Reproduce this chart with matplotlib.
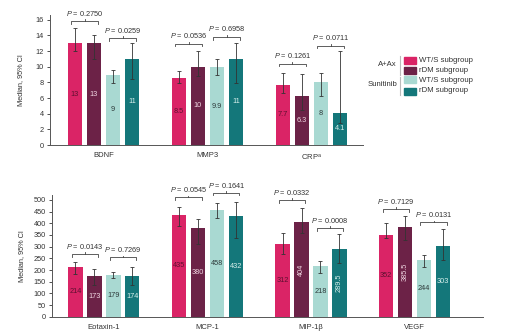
import numpy as np
import matplotlib.pyplot as plt
from matplotlib.patches import Rectangle
from matplotlib.lines import Line2D

plt.rcParams['font.family'] = ['Liberation Sans', 'DejaVu Sans']
plt.rcParams['mathtext.fontset'] = 'custom'
plt.rcParams['mathtext.rm'] = 'Liberation Sans'
plt.rcParams['mathtext.it'] = 'Liberation Sans:italic'

# ---- data ----
series_names = ['WT/S subgroup', 'rDM subgroup', 'WT/S subgroup', 'rDM subgroup']
bar_colors = ['#DA2466', '#6C2247', '#A9D9D2', '#14777A']
label_colors = ['#5E1030', '#F0D6E2', '#2E3B3B', '#D8F0EC']

top_categories = ['BDNF', 'MMP3', 'CRP$^{\\mathrm{a}}$']
top_median = [[13, 13, 9, 11], [8.5, 10, 9.9, 11], [7.7, 6.3, 8, 4.1]]
top_labels = [['13', '13', '9', '11'], ['8.5', '10', '9.9', '11'], ['7.7', '6.3', '8', '4.1']]
top_ci_low = [[12, 11, 7.9, 8.4], [7.9, 8.8, 8.9, 7.9], [6.7, 4.5, 6.3, 2.8]]
top_ci_high = [[15, 14, 9.6, 13], [9.5, 12, 11, 13], [9.25, 9.1, 9.25, 12]]
top_p = [['0.2750', '0.0259'], ['0.0536', '0.6958'], ['0.1261', '0.0711']]
top_p_y = [[15.8, 13.6], [12.95, 13.8], [10.4, 12.7]]

bot_categories = ['Eotaxin-1', 'MCP-1', 'MIP-1\u03b2', 'VEGF']
bot_median = [[214, 173, 179, 174], [435, 380, 458, 432], [312, 404, 218, 289.5], [352, 385.5, 244, 303]]
bot_labels = [['214', '173', '179', '174'], ['435', '380', '458', '432'],
              ['312', '404', '218', '289.5'], ['352', '385.5', '244', '303']]
bot_ci_low = [[183, 136, 164, 136], [390, 311, 421, 339], [269, 360, 189, 229], [336, 329, 214, 243]]
bot_ci_high = [[233, 203, 190, 211], [471, 417, 486, 490], [357, 464, 240, 354], [400, 431, 264, 376]]
bot_p = [['0.0143', '0.7269'], ['0.0545', '0.1641'], ['0.0332', '0.0008'], ['0.7129', '0.0131']]
bot_p_y = [[269, 254], [511, 531], [500, 379], [461, 404]]
bot_rotated = [[], [], [1, 3], [1]]

W, H = 518, 333
fig = plt.figure(figsize=(W / 100, H / 100), dpi=100)

step = 0.183
width = 0.14
offsets = (np.arange(4) - 1.5) * step
fs = 5.3


def panel(ax, cats, med, labels, lo, hi, pvals, py, ymax, yticks, rotated=None):
    med = np.array(med, dtype=float)
    lo = np.array(lo, dtype=float)
    hi = np.array(hi, dtype=float)
    x = np.arange(len(cats))
    for k in range(4):
        xs = x + offsets[k]
        ax.bar(xs, med[:, k], width=width, color=bar_colors[k], zorder=2)
        ax.errorbar(xs, med[:, k], yerr=[med[:, k] - lo[:, k], hi[:, k] - med[:, k]],
                    fmt='none', ecolor='#333333', elinewidth=0.6, capsize=1.6,
                    capthick=0.6, zorder=3)
        for i in range(len(cats)):
            rot = 90 if (rotated and k in rotated[i]) else 0
            ax.text(xs[i], med[i, k] / 2, labels[i][k], ha='center', va='center',
                    fontsize=fs, color=label_colors[k], rotation=rot, zorder=4)
    tick = 0.022 * ymax
    for i in range(len(cats)):
        for j, (a, b) in enumerate([(0, 1), (2, 3)]):
            x1 = x[i] + offsets[a] - 0.035
            x2 = x[i] + offsets[b] + 0.035
            y = py[i][j]
            xm = (x1 + x2) / 2
            ax.plot([x1, x1, x2, x2], [y - tick, y, y, y - tick], color='#444444',
                    lw=0.6, clip_on=False, zorder=5)
            ax.plot([xm, xm], [y, y + tick * 0.7], color='#444444', lw=0.6,
                    clip_on=False, zorder=5)
            ax.text(xm, y + 0.062 * ymax, '$P$ = ' + pvals[i][j], ha='center',
                    va='center', fontsize=fs, color='#333333', clip_on=False)
    ax.set_ylim(0, ymax)
    ax.set_yticks(yticks)
    ax.set_xticks(x)
    ax.set_xticklabels(cats)
    ax.tick_params(axis='x', length=0, pad=5, labelsize=fs + 0.2, colors='#333333')
    ax.tick_params(axis='y', length=2.5, width=0.6, pad=2, labelsize=fs, colors='#333333')
    for s in ['top', 'right']:
        ax.spines[s].set_visible(False)
    for s in ['left', 'bottom']:
        ax.spines[s].set_color('#555555')
        ax.spines[s].set_linewidth(0.7)
    ax.set_ylabel('Median, 95% CI', fontsize=fs, color='#333333')


# top panel
ax1 = fig.add_axes([50 / W, 1 - 145 / H, 313 / W, 130 / H])
panel(ax1, top_categories, top_median, top_labels, top_ci_low, top_ci_high,
      top_p, top_p_y, 16.6, np.arange(0, 17, 2))
ax1.set_xlim(-0.515, 2.495)
ax1.yaxis.set_label_coords(-0.083, 0.5)

# bottom panel
ax2 = fig.add_axes([52 / W, 1 - 316.7 / H, 431 / W, 121.4 / H])
panel(ax2, bot_categories, bot_median, bot_labels, bot_ci_low, bot_ci_high,
      bot_p, bot_p_y, 520, np.arange(0, 501, 50), rotated=bot_rotated)
ax2.set_xlim(-0.5, 3.66)
ax2.yaxis.set_label_coords(-0.063, 0.5)

# legend (drawn manually in pixel positions)
def fx(px):
    return px / W


def fy(py):
    return 1 - py / H


legend_y = [60, 70, 80, 91]
for k in range(4):
    fig.patches.append(Rectangle((fx(404), fy(legend_y[k] + 3.5)), 12 / W, 7 / H,
                                 transform=fig.transFigure, color=bar_colors[k]))
    fig.text(fx(419), fy(legend_y[k]), series_names[k], fontsize=fs + 0.3,
             va='center', ha='left', color='#333333')
fig.lines.append(Line2D([fx(400), fx(400)], [fy(56), fy(75)], transform=fig.transFigure,
                        color='#BBBBBB', lw=0.8))
fig.lines.append(Line2D([fx(400), fx(400)], [fy(77), fy(95)], transform=fig.transFigure,
                        color='#BBBBBB', lw=0.8))
fig.text(fx(397), fy(65), 'A+Ax', fontsize=fs + 0.3, va='center', ha='right', color='#333333')
fig.text(fx(397), fy(85), 'Sunitinib', fontsize=fs + 0.3, va='center', ha='right', color='#333333')

fig.savefig('out.png', dpi=100)
